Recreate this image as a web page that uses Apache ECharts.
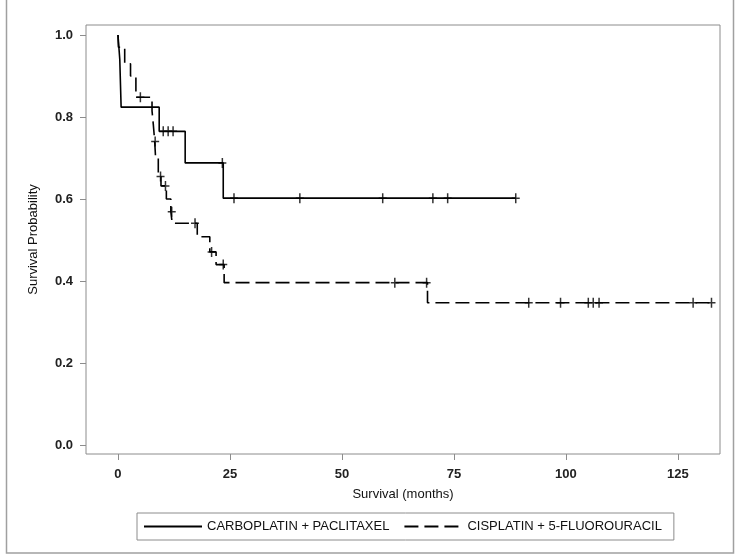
<!DOCTYPE html>
<html>
<head>
<meta charset="utf-8">
<script src="https://cdn.jsdelivr.net/npm/echarts@6/dist/echarts.min.js"></script>
<style>
html,body{margin:0;padding:0;background:#fff;}
#chart{width:738px;height:559px;}
</style>
</head>
<body>
<div id="chart"></div>
<script>
// ---- data ----
const xTicks = [0, 25, 50, 75, 100, 125];
const yTicks = [0, 0.2, 0.4, 0.6, 0.8, 1.0];

const carboName = 'CARBOPLATIN + PACLITAXEL';
const carboTimes = [0, 0.4, 0.7, 9.2, 15.0, 23.5, 88.8];
const carboSurv  = [1.0, 0.941, 0.824, 0.765, 0.688, 0.602, 0.602];
const carboCensorTimes = [10.1, 11.2, 12.3, 23.3, 25.9, 40.6, 59.1, 70.3, 73.6, 88.8];
const carboCensorSurv  = [0.765, 0.765, 0.765, 0.688, 0.602, 0.602, 0.602, 0.602, 0.602, 0.602];

const cisName = 'CISPLATIN + 5-FLUOROURACIL';
const cisTimes = [0, 0.1, 1.5, 2.8, 4.0, 7.6, 7.9, 8.2, 8.4, 9.0, 9.6, 10.8, 11.8, 12.1, 17.7, 20.5, 21.9, 23.7, 69.1, 132.5];
const cisSurv  = [1.0, 0.970, 0.930, 0.900, 0.848, 0.815, 0.780, 0.740, 0.700, 0.655, 0.632, 0.600, 0.569, 0.541, 0.508, 0.471, 0.440, 0.396, 0.347, 0.347];
const cisCensorTimes = [5.0, 8.3, 9.5, 10.6, 12.0, 17.2, 20.9, 23.5, 61.8, 68.9, 91.7, 98.8, 105.0, 106.1, 107.4, 128.4, 132.5];
const cisCensorSurv  = [0.848, 0.740, 0.655, 0.632, 0.569, 0.541, 0.471, 0.440, 0.396, 0.396, 0.347, 0.347, 0.347, 0.347, 0.347, 0.347, 0.347];

// ---- build ----
const pair = (xs, ys) => xs.map((x, i) => [x, ys[i]]);
const crossPath = 'path://M3.25,0h1.5v4.25h3.25v1.5h-3.25v4.25h-1.5v-4.25h-3.25v-1.5h3.25z';
const FONT = '"Liberation Sans", Arial, sans-serif';
const INK = '#000';
const GRAY = '#8c8c8c';

const chart = echarts.init(document.getElementById('chart'), null, {renderer: 'canvas'});
chart.setOption({
  animation: false,
  backgroundColor: '#fff',
  textStyle: {fontFamily: FONT},
  graphic: [{
    type: 'rect', silent: true,
    shape: {x: 6.5, y: -5, width: 727, height: 558},
    style: {fill: 'none', stroke: '#a0a0a0', lineWidth: 1.5}
  }],
  grid: {
    left: 86, top: 25, right: 18, bottom: 105,
    show: true, borderColor: GRAY, borderWidth: 1, backgroundColor: 'transparent'
  },
  xAxis: {
    type: 'value', min: -7.14, max: 134.4,
    splitLine: {show: false},
    axisLine: {show: false, onZero: false},
    axisTick: {show: true, inside: false, length: 6, customValues: xTicks, lineStyle: {color: GRAY}},
    axisLabel: {customValues: xTicks, margin: 14, fontSize: 13, fontWeight: 'bold', color: '#222', fontFamily: FONT},
    name: 'Survival (months)', nameLocation: 'middle', nameGap: 34,
    nameTextStyle: {fontSize: 13, color: '#111', fontFamily: FONT}
  },
  yAxis: {
    type: 'value', min: -0.022, max: 1.0244,
    splitLine: {show: false},
    axisLine: {show: false, onZero: false},
    axisTick: {show: true, inside: false, length: 6, customValues: yTicks, lineStyle: {color: GRAY}},
    axisLabel: {customValues: yTicks, margin: 13, fontSize: 13, fontWeight: 'bold', color: '#222', fontFamily: FONT,
      formatter: v => v.toFixed(1)},
    name: 'Survival Probability', nameLocation: 'middle', nameGap: 46, nameRotate: 90,
    nameTextStyle: {fontSize: 13, color: '#111', fontFamily: FONT}
  },
  legend: {
    data: [carboName, cisName],
    left: 137, top: 513,
    itemWidth: 58, itemHeight: 14, itemGap: 14,
    padding: [7, 12, 7, 6],
    borderColor: GRAY, borderWidth: 1,
    itemStyle: {opacity: 0},
    textStyle: {fontSize: 13, color: '#111', fontFamily: FONT}
  },
  series: [
    {
      name: carboName, type: 'line', step: 'end', showSymbol: false, symbol: 'none', symbolSize: 0,
      data: pair(carboTimes, carboSurv),
      lineStyle: {color: INK, width: 1.6, type: 'solid'}, itemStyle: {color: INK}
    },
    {
      name: cisName, type: 'line', step: 'end', showSymbol: false, symbol: 'none', symbolSize: 0,
      data: pair(cisTimes, cisSurv),
      lineStyle: {color: INK, width: 1.6, type: [14, 6]}, itemStyle: {color: INK}
    },
    {
      name: 'carbo-censored', type: 'scatter', symbol: crossPath, symbolSize: [8, 10],
      data: pair(carboCensorTimes, carboCensorSurv), itemStyle: {color: INK}, z: 3
    },
    {
      name: 'cis-censored', type: 'scatter', symbol: crossPath, symbolSize: [8, 10],
      data: pair(cisCensorTimes, cisCensorSurv), itemStyle: {color: INK}, z: 3
    }
  ]
});
</script>
</body>
</html>
